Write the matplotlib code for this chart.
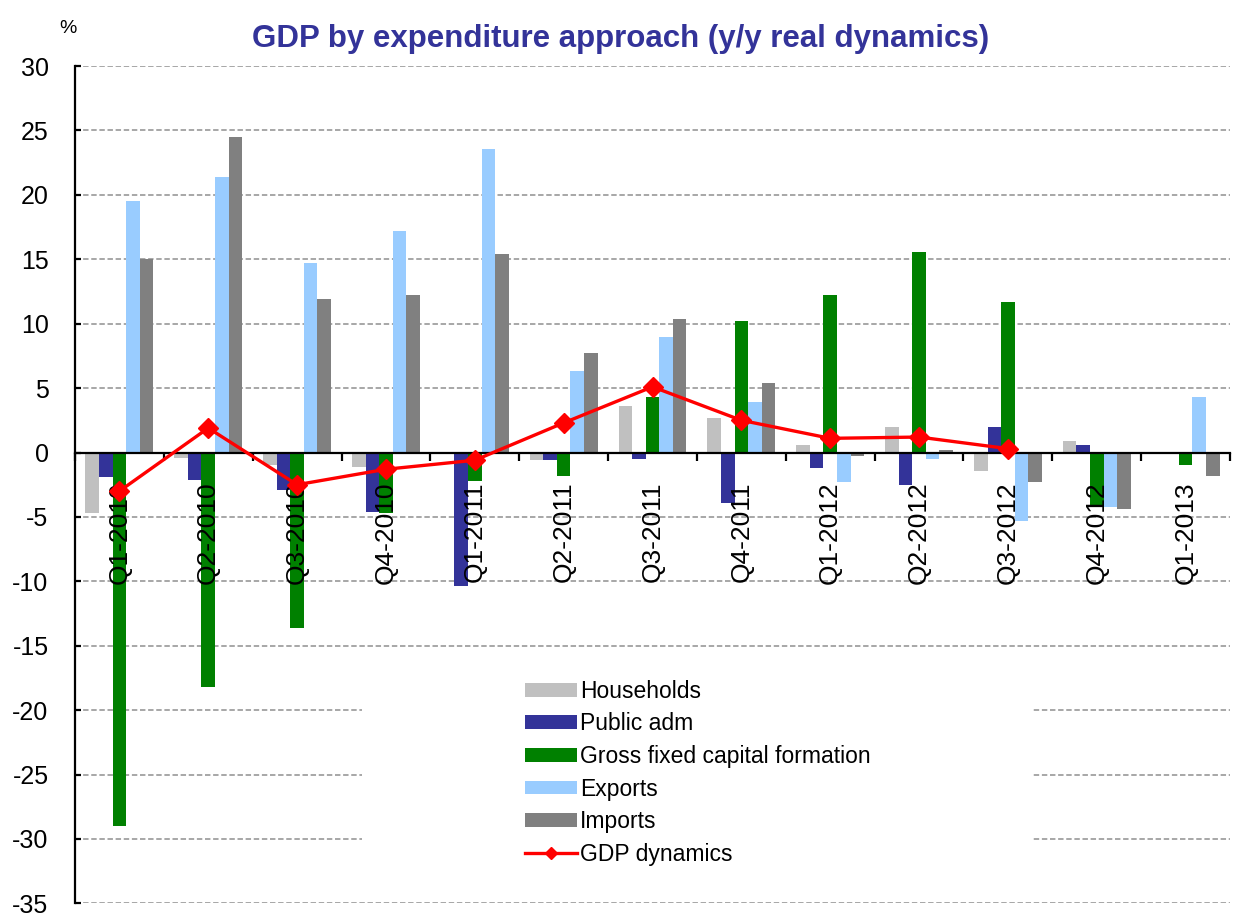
import numpy as np
import matplotlib
matplotlib.use('Agg')
import matplotlib.pyplot as plt
from matplotlib.patches import Rectangle

quarters = ['Q1-2010', 'Q2-2010', 'Q3-2010', 'Q4-2010', 'Q1-2011', 'Q2-2011', 'Q3-2011',
            'Q4-2011', 'Q1-2012', 'Q2-2012', 'Q3-2012', 'Q4-2012', 'Q1-2013']
households = [-4.7, -0.4, -1.0, -1.1, 0.0, -0.6, 3.6, 2.7, 0.55, 2.0, -1.4, 0.9, 0.0]
public_adm = [-1.9, -2.1, -2.9, -4.6, -10.4, -0.6, -0.5, -3.9, -1.2, -2.5, 2.0, 0.55, 0.0]
gfcf = [-29.0, -18.2, -13.6, -4.7, -2.2, -1.8, 4.3, 10.2, 12.2, 15.6, 11.7, -4.2, -1.0]
exports = [19.5, 21.4, 14.7, 17.2, 23.6, 6.3, 9.0, 3.9, -2.3, -0.5, -5.3, -4.25, 4.3]
imports = [15.0, 24.5, 11.9, 12.2, 15.4, 7.7, 10.4, 5.4, -0.3, 0.2, -2.3, -4.4, -1.8]
gdp = [-3.0, 1.9, -2.5, -1.3, -0.6, 2.3, 5.1, 2.5, 1.1, 1.2, 0.3, np.nan, np.nan]
yticks = list(range(-35, 31, 5))

series = [('Households', households, '#c0c0c0'),
          ('Public adm', public_adm, '#333399'),
          ('Gross fixed capital formation', gfcf, '#008000'),
          ('Exports', exports, '#99ccff'),
          ('Imports', imports, '#808080')]

plt.rcParams['font.family'] = ['Liberation Sans', 'DejaVu Sans']
plt.rcParams['axes.unicode_minus'] = False

fig = plt.figure(figsize=(12.33, 9.18), dpi=100)
ax = fig.add_axes([0.0608, 0.016, 0.9368, 0.912])

x = np.arange(len(quarters))
w = 0.153
handles = []
for i, (name, vals, color) in enumerate(series):
    handles.append(ax.bar(x + (i - 2) * w, vals, w, color=color, label=name, zorder=2))
line, = ax.plot(x, gdp, color='#ff0000', lw=2.4, marker='D', ms=10, label='GDP dynamics', zorder=3)
handles.append(line)

ax.set_xlim(-0.5, len(quarters) - 0.5)
ax.set_ylim(yticks[0], yticks[-1])
ax.set_yticks(yticks)
# grid drawn by hand so it stays under the bars while tick labels stay on top
for yv in yticks:
    ax.axhline(yv, color='#a0a0a0', ls=(0, (3, 1.5)), lw=1.3, zorder=0.5)
ax.set_axisbelow(False)

ax.spines['top'].set_visible(False)
ax.spines['right'].set_visible(False)
ax.spines['bottom'].set_position(('data', 0))
ax.spines['bottom'].set_linewidth(1.6)
ax.spines['left'].set_linewidth(1.6)

ax.set_xticks(np.arange(-0.5, len(quarters), 1))
ax.set_xticklabels([])
ax.set_xticks(x, minor=True)
ax.set_xticklabels(quarters, minor=True, rotation=90, fontsize=19, va='top')
ax.tick_params(axis='x', which='major', direction='out', length=6, width=1.6)
ax.tick_params(axis='x', which='minor', length=0, pad=21)
ax.tick_params(axis='y', direction='in', length=4, width=1.6, pad=19, labelsize=18)

# white area behind the legend hides the grid lines
ax.add_patch(Rectangle((0.2485, 0.04), 0.58, 0.248, transform=ax.transAxes,
                       facecolor='white', edgecolor='none', zorder=1))
ax.legend(handles=handles, loc='upper left', bbox_to_anchor=(0.3896, 0.267), frameon=False,
          fontsize=16.5, handlelength=2.27, handleheight=0.55, handletextpad=0.12,
          labelspacing=0.42, borderpad=0, borderaxespad=0, markerscale=0.6)

fig.text(0.503, 0.958, 'GDP by expenditure approach (y/y real dynamics)', ha='center',
         va='center', fontsize=22.5, fontweight='bold', color='#333399')
fig.text(0.055, 0.969, '%', ha='center', va='center', fontsize=14)

fig.savefig('out.png', dpi=100)
